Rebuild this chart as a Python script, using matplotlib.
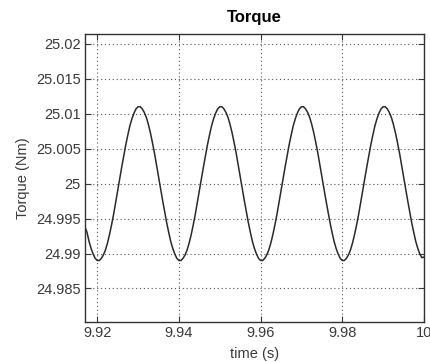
import numpy as np
import matplotlib
matplotlib.use("Agg")
import matplotlib.pyplot as plt
from matplotlib.ticker import FixedLocator, FuncFormatter

plt.rcParams['font.family'] = ['Liberation Sans', 'DejaVu Sans']

# sampled torque signal (0.5 ms steps from 9.917 s to 10.000 s)
time_s = np.linspace(9.917, 10.0, 167)
torque_nm = [
    24.9938, 24.9930, 24.9917, 24.9907, 24.9899, 24.9893, 24.9890, 24.9890, 24.9893, 24.9898,
    24.9905, 24.9915, 24.9927, 24.9941, 24.9956, 24.9973, 24.9990, 25.0007, 25.0024, 25.0040,
    25.0056, 25.0070, 25.0083, 25.0093, 25.0101, 25.0107, 25.0110, 25.0110, 25.0107, 25.0102,
    25.0095, 25.0085, 25.0073, 25.0059, 25.0044, 25.0027, 25.0010, 24.9993, 24.9976, 24.9960,
    24.9944, 24.9930, 24.9917, 24.9907, 24.9899, 24.9893, 24.9890, 24.9890, 24.9893, 24.9898,
    24.9905, 24.9915, 24.9927, 24.9941, 24.9956, 24.9973, 24.9990, 25.0007, 25.0024, 25.0040,
    25.0056, 25.0070, 25.0083, 25.0093, 25.0101, 25.0107, 25.0110, 25.0110, 25.0107, 25.0102,
    25.0095, 25.0085, 25.0073, 25.0059, 25.0044, 25.0027, 25.0010, 24.9993, 24.9976, 24.9960,
    24.9944, 24.9930, 24.9917, 24.9907, 24.9899, 24.9893, 24.9890, 24.9890, 24.9893, 24.9898,
    24.9905, 24.9915, 24.9927, 24.9941, 24.9956, 24.9973, 24.9990, 25.0007, 25.0024, 25.0040,
    25.0056, 25.0070, 25.0083, 25.0093, 25.0101, 25.0107, 25.0110, 25.0110, 25.0107, 25.0102,
    25.0095, 25.0085, 25.0073, 25.0059, 25.0044, 25.0027, 25.0010, 24.9993, 24.9976, 24.9960,
    24.9944, 24.9930, 24.9917, 24.9907, 24.9899, 24.9893, 24.9890, 24.9890, 24.9893, 24.9898,
    24.9905, 24.9915, 24.9927, 24.9941, 24.9956, 24.9973, 24.9990, 25.0007, 25.0024, 25.0040,
    25.0056, 25.0070, 25.0083, 25.0093, 25.0101, 25.0107, 25.0110, 25.0110, 25.0107, 25.0102,
    25.0095, 25.0085, 25.0073, 25.0059, 25.0044, 25.0027, 25.0010, 24.9993, 24.9976, 24.9960,
    24.9944, 24.9930, 24.9917, 24.9907, 24.9899, 24.9894, 24.9895,
]
x_ticks = [9.92, 9.94, 9.96, 9.98, 10.0]
y_ticks = [24.985, 24.99, 24.995, 25.0, 25.005, 25.01, 25.015, 25.02]

fig = plt.figure(figsize=(4.3, 3.62), dpi=100)
fig.patch.set_facecolor('white')
ax = fig.add_axes([0.1977, 0.1105, 0.7883, 0.7955])

ax.plot(time_s, torque_nm, color='#2a2a2a', linewidth=1.1, zorder=3)

ax.set_xlim(9.917, 10.0)
ax.set_ylim(24.9802, 25.0214)
ax.xaxis.set_major_locator(FixedLocator(x_ticks))
ax.yaxis.set_major_locator(FixedLocator(y_ticks))
fmt = FuncFormatter(lambda v, pos: f"{v:g}")
ax.xaxis.set_major_formatter(fmt)
ax.yaxis.set_major_formatter(fmt)

ax.grid(True, color='#555555', linestyle=(0, (1, 2.5)), linewidth=0.8)
ax.tick_params(direction='in', length=4, width=0.8, colors='#3a3a3a',
               labelsize=10.5, top=True, right=True, pad=3)
ax.tick_params(axis='x', pad=3)
for side in ['left', 'right', 'top', 'bottom']:
    ax.spines[side].set_color('#333333')
    ax.spines[side].set_linewidth(1.0)

ax.set_title("Torque", fontsize=12, fontweight='bold', color='black', pad=9)
ax.set_xlabel("time (s)", fontsize=10.5, color='#3a3a3a', labelpad=5)
ax.set_ylabel("Torque (Nm)", fontsize=10.5, color='#3a3a3a', labelpad=4)

fig.savefig("out.png", dpi=100)
